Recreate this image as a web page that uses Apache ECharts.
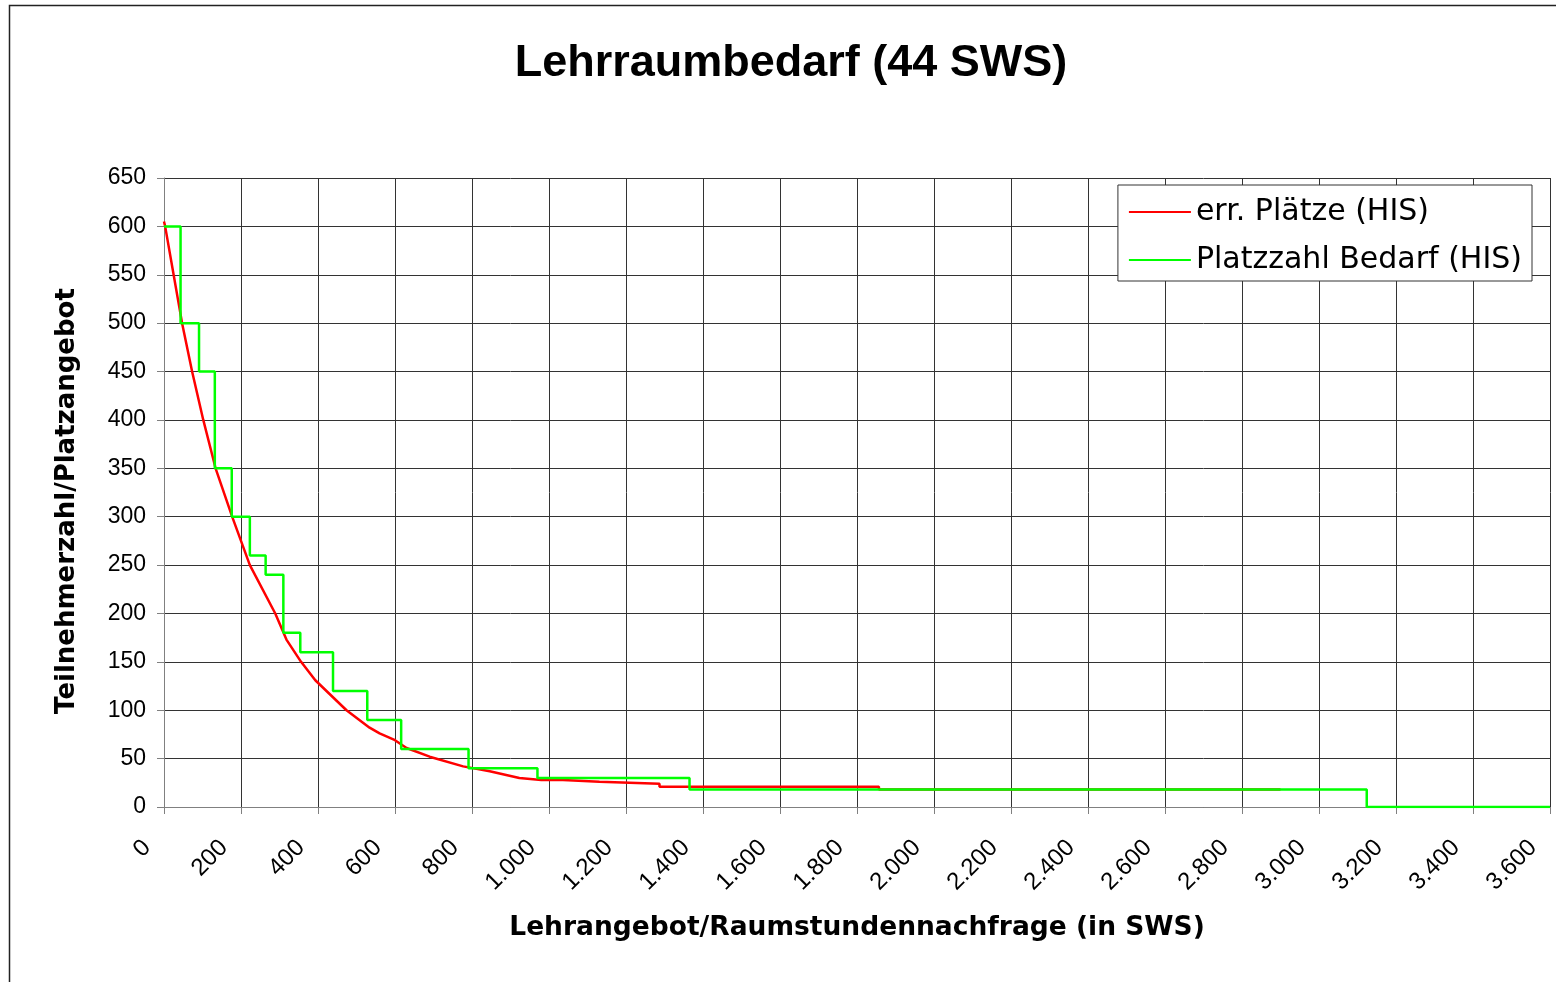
<!DOCTYPE html>
<html>
<head>
<meta charset="utf-8">
<script src="https://cdn.jsdelivr.net/npm/echarts@6/dist/echarts.min.js"></script>
<style>
  html, body { margin: 0; padding: 0; background: #fff; }
  #chart { width: 1556px; height: 982px; }
</style>
</head>
<body>
<div id="chart"></div>
<script>
// values
var seriesNames = ['err. Plätze (HIS)', 'Platzzahl Bedarf (HIS)'];

// red curve: [SWS, places]
var errPlaetze = [
  [0, 605], [3, 600], [25, 550], [47, 500], [73, 450], [102, 400], [134, 350],
  [177, 300], [223, 250], [289, 200], [318, 173], [356, 150], [393, 131],
  [474, 100], [534, 82], [560, 76], [600, 69], [630, 61], [690, 52], [777, 42],
  [846, 37], [923, 30], [980, 28], [1036, 28], [1036, 26], [1131, 26],
  [1131, 24], [1287, 24], [1287, 21], [1857, 21], [1857, 18], [2900, 18]
];

// green steps: [start of step, seats]
var platzBedarf = [
  [0, 600], [43, 500], [91, 450], [132, 350], [176, 300], [223, 260],
  [264, 240], [310, 180], [354, 160], [439, 120], [528, 90], [616, 60],
  [791, 40], [970, 30], [1365, 18], [3124, 0], [3600, 0]
];

var xMax = 3600, xStep = 200;
var yMax = 650, yStep = 50;

function deNumber(v) {
  return String(v).replace(/\B(?=(\d{3})+(?!\d))/g, '.');
}

var chart = echarts.init(document.getElementById('chart'), null, { renderer: 'canvas' });

var gridColor = '#333';
var axisColor = '#808080';
var tickFont = 'Liberation Sans, Arial, sans-serif';

var option = {
  animation: false,
  backgroundColor: '#fff',
  title: {
    text: 'Lehrraumbedarf (44 SWS)',
    left: 786,
    top: 36,
    textAlign: 'center',
    textStyle: {
      fontFamily: tickFont,
      fontWeight: 'bold',
      fontSize: 45,
      color: '#000'
    }
  },
  graphic: [{
    type: 'rect',
    silent: true,
    shape: { x: 9.5, y: 5.5, width: 1570, height: 990 },
    style: { fill: 'none', stroke: '#222', lineWidth: 1.5 }
  }],
  legend: {
    data: seriesNames,
    orient: 'vertical',
    right: 24,
    top: 185,
    padding: [12, 10, 6, 11],
    itemGap: 18,
    itemWidth: 62,
    itemHeight: 2,
    icon: 'rect',
    borderColor: '#333',
    borderWidth: 1,
    borderRadius: 0,
    backgroundColor: '#fff',
    textStyle: {
      fontFamily: 'DejaVu Sans',
      fontSize: 30,
      color: '#000'
    }
  },
  grid: {
    left: 164,
    right: 6,
    top: 178,
    bottom: 175,
    containLabel: false
  },
  xAxis: {
    type: 'value',
    min: 0,
    max: xMax,
    interval: xStep,
    name: 'Lehrangebot/Raumstundennachfrage (in SWS)',
    nameLocation: 'middle',
    nameGap: 108,
    nameTextStyle: {
      fontFamily: 'DejaVu Sans',
      fontWeight: 'bold',
      fontSize: 26.5,
      color: '#000'
    },
    axisLine: { show: true, lineStyle: { color: axisColor, width: 1 } },
    axisTick: { show: true, length: 7, lineStyle: { color: axisColor } },
    splitLine: { show: true, lineStyle: { color: gridColor, width: 1 } },
    axisLabel: {
      rotate: 45,
      margin: 20,
      padding: [0, 24, 0, 0],
      fontFamily: tickFont,
      fontSize: 24,
      color: '#000',
      showMinLabel: true,
      showMaxLabel: true,
      formatter: deNumber
    }
  },
  yAxis: {
    type: 'value',
    min: 0,
    max: yMax,
    interval: yStep,
    name: 'Teilnehmerzahl/Platzangebot',
    nameLocation: 'middle',
    nameGap: 84,
    nameTextStyle: {
      fontFamily: 'DejaVu Sans',
      fontWeight: 'bold',
      fontSize: 26,
      color: '#000',
      padding: [0, 17, 0, 0]
    },
    axisLine: { show: true, lineStyle: { color: axisColor, width: 1 } },
    axisTick: { show: true, length: 7, lineStyle: { color: axisColor } },
    splitLine: { show: true, lineStyle: { color: gridColor, width: 1 } },
    axisLabel: {
      margin: 18,
      fontFamily: tickFont,
      fontSize: 23,
      color: '#000'
    }
  },
  series: [
    {
      name: seriesNames[0],
      type: 'line',
      data: errPlaetze,
      showSymbol: false,
      z: 2,
      itemStyle: { color: '#ff0000' },
      lineStyle: { color: '#ff0000', width: 2.5 }
    },
    {
      name: seriesNames[1],
      type: 'line',
      step: 'end',
      data: platzBedarf,
      showSymbol: false,
      z: 3,
      itemStyle: { color: '#00ff00' },
      lineStyle: { color: '#00ff00', width: 2.5 }
    }
  ]
};

chart.setOption(option);
</script>
</body>
</html>
